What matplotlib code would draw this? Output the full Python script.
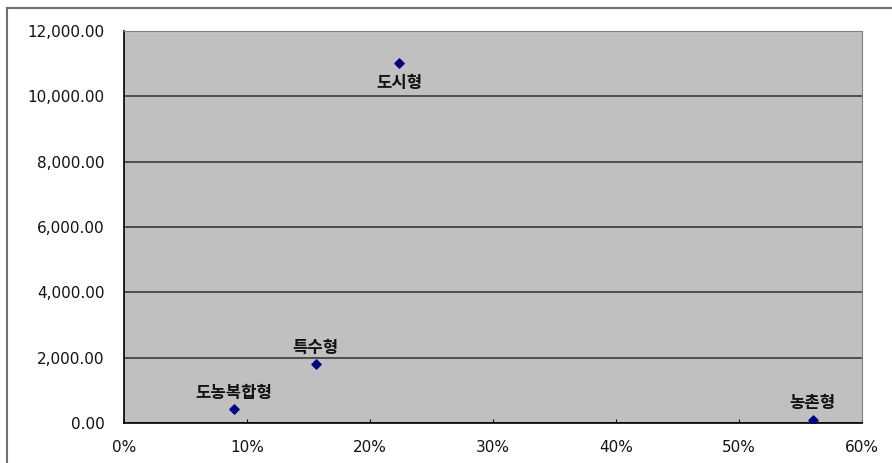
import matplotlib
matplotlib.use("Agg")
import matplotlib.pyplot as plt
from matplotlib.ticker import FuncFormatter, MultipleLocator
from matplotlib.lines import Line2D

plt.rcParams['font.family'] = ['Noto Sans CJK KR', 'DejaVu Sans']

# 데이터
names = ['도시형', '특수형', '도농복합형', '농촌형']
ratio = [0.2236, 0.156, 0.0894, 0.560]
value = [11030, 1806, 440, 95]
label_dy = [-20, 16, 16, 17]  # 라벨 위치 (픽셀)

fig = plt.figure(figsize=(8.92, 4.63), dpi=100)
W, H = 892, 463
ax = fig.add_axes([124 / W, 1 - 423 / H, (862 - 124) / W, (423 - 31) / H])
ax.set_facecolor('#c0c0c0')

ax.set_xlim(0, 0.6)
ax.set_ylim(0, 12000)
ax.xaxis.set_major_locator(MultipleLocator(0.1))
ax.yaxis.set_major_locator(MultipleLocator(2000))
ax.xaxis.set_major_formatter(FuncFormatter(lambda v, p: '%d%%' % round(v * 100)))
ax.yaxis.set_major_formatter(FuncFormatter(lambda v, p: '{:,.2f}'.format(v)))

ax.grid(axis='y', color='#3a3a3a', linewidth=1.2)
ax.set_axisbelow(True)
ax.tick_params(axis='x', direction='in', length=3, color='black', labelsize=11,
               pad=12, labelcolor='#111111')
ax.tick_params(axis='y', length=0, labelsize=11, pad=14, labelcolor='#111111')
for lab in ax.get_xticklabels() + ax.get_yticklabels():
    lab.set_family('DejaVu Sans')

ax.spines['left'].set_color('black')
ax.spines['bottom'].set_color('black')
ax.spines['left'].set_linewidth(1.2)
ax.spines['bottom'].set_linewidth(1.2)
ax.spines['top'].set_color('#808080')
ax.spines['right'].set_color('#808080')

ax.scatter(ratio, value, marker='D', s=22, color='#000080', zorder=3)

for n, x, y, dy in zip(names, ratio, value, label_dy):
    ax.annotate(n, (x, y), xytext=(0, dy), textcoords='offset pixels',
                ha='center', va='center', fontsize=12, fontweight='bold',
                color='#111111')

# 차트 영역 테두리
fig.add_artist(Line2D([7 / W, 1], [1 - 8 / H, 1 - 8 / H], color='#707070', lw=1.5,
                      transform=fig.transFigure))
fig.add_artist(Line2D([7 / W, 7 / W], [0, 1 - 8 / H], color='#707070', lw=1.5,
                      transform=fig.transFigure))

fig.savefig('out.png', dpi=100)
